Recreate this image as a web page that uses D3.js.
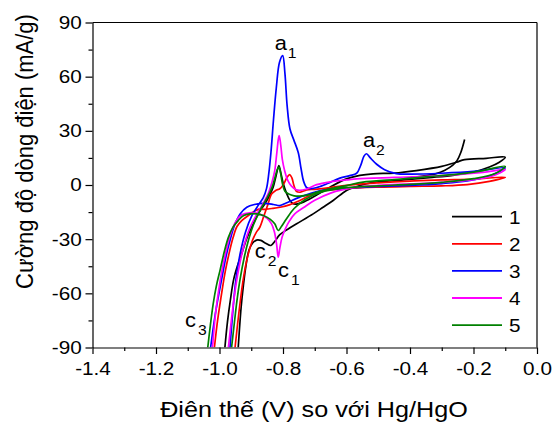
<!DOCTYPE html>
<html><head><meta charset="utf-8">
<script src="https://cdn.jsdelivr.net/npm/d3@7"></script>
<style>body{margin:0;background:#fff}text{font-family:"Liberation Sans",Arial,sans-serif;fill:#000}</style>
</head><body><svg id="c" width="553" height="423"></svg>
<script>
// ---- data ----
const xTicks = [-1.4, -1.2, -1.0, -0.8, -0.6, -0.4, -0.2, 0.0];
const xTickLabels = ["-1.4", "-1.2", "-1.0", "-0.8", "-0.6", "-0.4", "-0.2", "0.0"];
const xMinor = [-1.3, -1.1, -0.9, -0.7, -0.5, -0.3, -0.1];
const yTicks = [-90, -60, -30, 0, 30, 60, 90];
const yTickLabels = ["-90", "-60", "-30", "0", "30", "60", "90"];
const yMinor = [-75, -45, -15, 15, 45, 75];
const seriesNames = ["1", "2", "3", "4", "5"];
const seriesColors = ["#000000", "#ff0000", "#0000ff", "#ff00ff", "#008000"];

// [potential V, current mA/g]
const curve1 = [[-0.983,-90],[-0.975,-76],[-0.966,-64],[-0.955,-52],[-0.942,-44],[-0.93,-38],[-0.915,-30],[-0.899,-23.4],[-0.878,-16],[-0.857,-10.4],[-0.843,-6],[-0.831,-1.2],[-0.822,5],[-0.813,10.8],[-0.806,6],[-0.799,0.7],[-0.789,-4.5],[-0.778,-8.6],[-0.768,-10.4],[-0.758,-10.6],[-0.736,-9.5],[-0.705,-6.7],[-0.652,-1.2],[-0.6,3.4],[-0.558,5.3],[-0.516,6.2],[-0.45,6.6],[-0.38,8],[-0.3,10.3],[-0.254,12.6],[-0.228,14.1],[-0.16,14.8],[-0.1,15.4],
  [-0.12,12.5],[-0.15,10],[-0.2,7.2],[-0.26,5.5],[-0.33,4.2],[-0.42,2.8],[-0.506,1.6],[-0.537,0.7],[-0.57,-1],[-0.6,-3],[-0.642,-8.6],[-0.675,-12.5],[-0.705,-16],[-0.757,-21.5],[-0.785,-24.5],[-0.81,-27.5],[-0.825,-31],[-0.838,-33.5],[-0.855,-32.2],[-0.87,-30.7],[-0.883,-30.5],[-0.895,-32],[-0.907,-36],[-0.917,-45],[-0.925,-56],[-0.932,-68],[-0.941,-90]];
const curve1Tail = [[-0.42,3.6],[-0.36,5],[-0.32,6.2],[-0.29,8.2],[-0.265,11],[-0.252,13.5],[-0.24,18],[-0.228,25.2]];
const curve2 = [[-0.951,-90],[-0.943,-77],[-0.935,-65],[-0.925,-52],[-0.912,-40],[-0.897,-31],[-0.885,-26.5],[-0.873,-23.4],[-0.86,-17],[-0.848,-11],[-0.836,-5],[-0.823,-3],[-0.81,-2.1],[-0.798,0.5],[-0.788,4],[-0.779,5.8],[-0.772,4],[-0.766,0],[-0.758,-3.5],[-0.745,-4],[-0.726,-2.7],[-0.7,-2.4],[-0.652,-1.5],[-0.6,-0.2],[-0.5,1.2],[-0.4,2.2],[-0.3,2.8],[-0.2,3.3],[-0.1,4.3],
  [-0.15,2],[-0.22,0.2],[-0.3,-0.5],[-0.4,-0.8],[-0.5,-1.2],[-0.6,-2],[-0.684,-3.5],[-0.747,-8.6],[-0.78,-11],[-0.809,-12.3],[-0.835,-13],[-0.86,-13.5],[-0.873,-13.2],[-0.89,-14.5],[-0.91,-17],[-0.93,-19.7],[-0.945,-23],[-0.957,-29],[-0.97,-38],[-0.982,-48],[-0.995,-62],[-1.006,-75],[-1.016,-90]];
const curve3 = [[-0.967,-90],[-0.958,-70],[-0.948,-52],[-0.935,-38],[-0.918,-26],[-0.898,-17],[-0.877,-11],[-0.862,-7],[-0.852,-2],[-0.845,6],[-0.838,18],[-0.83,36],[-0.821,54],[-0.811,68],[-0.801,71.7],[-0.794,62],[-0.787,44],[-0.778,31],[-0.766,25],[-0.752,18],[-0.743,9],[-0.735,2],[-0.725,-1.5],[-0.712,-2],[-0.69,-1.2],[-0.66,0.8],[-0.621,3.8],[-0.59,5.2],[-0.568,6.5],[-0.555,11],[-0.545,16],[-0.537,17.3],[-0.525,15],[-0.505,11.5],[-0.48,8.5],[-0.443,6.3],[-0.4,6],[-0.3,6.5],[-0.2,7.5],[-0.1,9.5],
  [-0.15,5],[-0.22,2.2],[-0.3,0.8],[-0.4,-0.2],[-0.5,-0.8],[-0.6,-1.8],[-0.684,-3.2],[-0.747,-6.7],[-0.79,-10],[-0.81,-11.4],[-0.83,-10.8],[-0.86,-10.2],[-0.89,-10.8],[-0.914,-12.3],[-0.935,-16],[-0.952,-22],[-0.966,-30],[-0.98,-40],[-0.993,-52],[-1.008,-66],[-1.018,-77],[-1.028,-90]];
const curve4 = [[-0.972,-90],[-0.962,-74],[-0.952,-60],[-0.94,-47],[-0.925,-35],[-0.905,-24],[-0.882,-16],[-0.862,-10],[-0.845,-4],[-0.834,2],[-0.826,8],[-0.82,17],[-0.815,25],[-0.812,27.4],[-0.807,22],[-0.802,14],[-0.795,8],[-0.785,2.5],[-0.774,-0.5],[-0.76,-2.5],[-0.747,-3],[-0.725,-2.2],[-0.694,0.2],[-0.65,1.8],[-0.6,2.8],[-0.568,3.4],[-0.45,4.2],[-0.35,4.8],[-0.25,5.8],[-0.17,7],[-0.1,8.5],
  [-0.14,5],[-0.2,3],[-0.3,1.5],[-0.4,0.6],[-0.5,-0.2],[-0.58,-1.5],[-0.65,-4.5],[-0.7,-8.5],[-0.735,-12.5],[-0.763,-16],[-0.78,-20],[-0.792,-24],[-0.803,-29],[-0.81,-35],[-0.815,-40],[-0.82,-33],[-0.827,-26],[-0.836,-21.5],[-0.85,-18.5],[-0.868,-16.5],[-0.883,-15.6],[-0.905,-15.4],[-0.93,-16.5],[-0.948,-20],[-0.965,-27],[-0.98,-37],[-0.993,-48],[-1.004,-60],[-1.013,-72],[-1.022,-90]];
const curve5 = [[-0.962,-90],[-0.953,-76],[-0.945,-64],[-0.935,-52],[-0.922,-40],[-0.908,-30],[-0.893,-22],[-0.872,-14],[-0.853,-8],[-0.841,-4],[-0.832,0],[-0.825,4.3],[-0.818,8.5],[-0.813,9.9],[-0.808,7],[-0.802,1],[-0.794,-3.5],[-0.782,-5],[-0.765,-6],[-0.747,-6.2],[-0.72,-5.5],[-0.69,-3.8],[-0.652,-2.1],[-0.6,-0.3],[-0.548,1.6],[-0.45,3],[-0.35,4.5],[-0.25,6],[-0.17,8],[-0.1,10.4],
  [-0.13,6.5],[-0.2,3.5],[-0.3,1.5],[-0.4,0.3],[-0.5,-0.5],[-0.6,-1.5],[-0.68,-4],[-0.73,-8],[-0.765,-13],[-0.79,-19],[-0.805,-23],[-0.815,-25.2],[-0.826,-21.5],[-0.84,-19],[-0.86,-17],[-0.883,-16],[-0.905,-16],[-0.925,-17],[-0.941,-19.7],[-0.958,-23.5],[-0.972,-29],[-0.985,-37],[-0.998,-47],[-1.01,-56],[-1.02,-66],[-1.029,-78],[-1.037,-90]];

const annLabels = ["a", "a", "c", "c", "c"];
const annSubs = ["1", "2", "1", "2", "3"];
const annV = [-0.826, -0.548, -0.8155, -0.889, -1.109];
const annI = [74.8, 21.2, -50.8, -40.6, -78.4];

const xTitle = "Điên thế (V) so với Hg/HgO";
const yTitle = "Cường độ dòng điện (mA/g)";

// ---- drawing ----
const SX = 1.12;
const svg = d3.select("#c");
const L = 92.5, R = 537, T = 22.5, B = 347.5;
const x = d3.scaleLinear().domain([-1.4, 0]).range([L, R]);
const y = d3.scaleLinear().domain([-90, 90]).range([B, T]);

svg.append("clipPath").attr("id", "clip").append("rect")
  .attr("x", L).attr("y", T).attr("width", R - L).attr("height", B - T);

const line = d3.line().x(d => x(d[0])).y(d => y(d[1])).curve(d3.curveCatmullRom.alpha(0.5));
const plot = svg.append("g").attr("clip-path", "url(#clip)");
const curves = [[curve1, curve1Tail], [curve2], [curve3], [curve4], [curve5]];
curves.forEach((segs, i) => {
  segs.forEach(s => {
    plot.append("path").attr("d", line(s)).attr("fill", "none")
      .attr("stroke", seriesColors[i]).attr("stroke-width", 1.7)
      .attr("stroke-linejoin", "round");
  });
});

// axes
const fs = "18.5px";
const gx = svg.append("g").attr("transform", `translate(0,${B})`)
  .call(d3.axisBottom(x).tickValues(xTicks).tickFormat((d, i) => xTickLabels[i])
    .tickSizeInner(6.5).tickSizeOuter(0).tickPadding(8));
gx.selectAll("text").style("font-size", fs).attr("transform", `scale(${SX},1)`);
svg.append("g").attr("transform", `translate(0,${B})`)
  .call(d3.axisBottom(x).tickValues(xMinor).tickFormat("").tickSizeInner(3.5).tickSizeOuter(0))
  .select(".domain").remove();

const gy = svg.append("g").attr("transform", `translate(${L},0)`)
  .call(d3.axisLeft(y).tickValues(yTicks).tickFormat((d, i) => yTickLabels[i])
    .tickSizeInner(7).tickSizeOuter(0).tickPadding(2.6));
gy.selectAll("text").style("font-size", fs).attr("transform", `scale(${SX},1)`);
svg.append("g").attr("transform", `translate(${L},0)`)
  .call(d3.axisLeft(y).tickValues(yMinor).tickFormat("").tickSizeInner(4).tickSizeOuter(0))
  .select(".domain").remove();

svg.selectAll(".domain, .tick line").attr("stroke", "#000").attr("stroke-width", 1.2);

// frame top/right
svg.append("line").attr("x1", L).attr("x2", R).attr("y1", T).attr("y2", T).attr("stroke", "#000").attr("stroke-width", 1.2);
svg.append("line").attr("x1", R).attr("x2", R).attr("y1", T).attr("y2", B).attr("stroke", "#000").attr("stroke-width", 1.2);

// titles
svg.append("text").attr("transform", `translate(314,416.5) scale(${SX},1)`)
  .attr("text-anchor", "middle").style("font-size", "22.5px").text(xTitle);
svg.append("text").attr("transform", `translate(33,151.5) scale(${SX},1) rotate(-90)`)
  .attr("text-anchor", "middle").style("font-size", "22px").text(yTitle);

// legend
seriesNames.forEach((n, i) => {
  const ly = 216.7 + 27.1 * i;
  svg.append("line").attr("x1", 452).attr("x2", 502).attr("y1", ly).attr("y2", ly)
    .attr("stroke", seriesColors[i]).attr("stroke-width", 1.8);
  svg.append("text").attr("transform", `translate(509,${ly + 7}) scale(${SX},1)`)
    .style("font-size", fs).text(n);
});

// annotations
annLabels.forEach((t, i) => {
  const ax = x(annV[i]), ay = y(annI[i]);
  svg.append("text").attr("transform", `translate(${ax},${ay}) scale(${SX},1)`)
    .style("font-size", "19.5px").text(t);
  svg.append("text").attr("transform", `translate(${ax + 13},${ay + 8}) scale(${SX},1)`)
    .style("font-size", "14px").text(annSubs[i]);
});
</script></body></html>
